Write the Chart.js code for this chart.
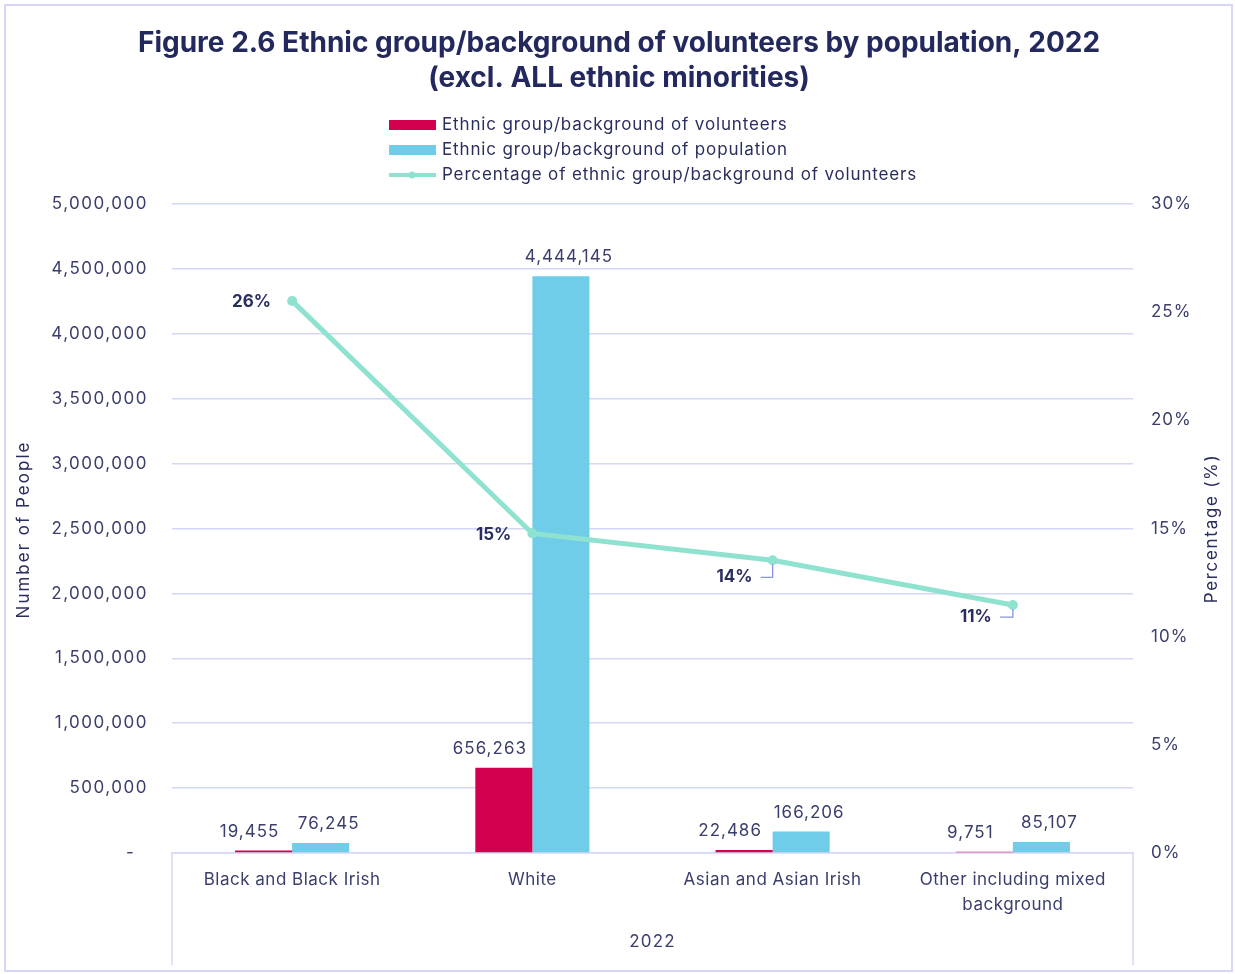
<!DOCTYPE html>
<html>
<head>
<meta charset="utf-8">
<script src="https://cdn.jsdelivr.net/npm/chart.js@4.4.1/dist/chart.umd.min.js"></script>
<style>
  html, body { margin: 0; padding: 0; background: #ffffff; }
  #wrap { width: 1235px; height: 974px; position: relative; }
</style>
</head>
<body>
<div id="wrap"><canvas id="chart" width="1235" height="974"></canvas></div>
<script>
// ---- data ----
const categories = [
  'Black and Black Irish',
  'White',
  'Asian and Asian Irish',
  ['Other including mixed', 'background']
];
const volunteers = [19455, 656263, 22486, 9751];
const population = [76245, 4444145, 166206, 85107];
const volunteerPct = [25.52, 14.77, 13.53, 11.46];
const groupLabel = '2022';
const seriesNames = [
  'Ethnic group/background of volunteers',
  'Ethnic group/background of population',
  'Percentage of ethnic group/background of volunteers'
];
const titleLines = [
  'Figure 2.6 Ethnic group/background of volunteers by population, 2022',
  '(excl. ALL ethnic minorities)'
];
const leftAxisTitle = 'Number of People';
const rightAxisTitle = 'Percentage (%)';

// ---- styling ----
const FONT = 'Inter, "Noto Sans", sans-serif';
const NAVY = '#2a2e5e';
const TICK = '#3a3e6c';
const GRID = '#d4d8f6';
const RED = '#d3004f';
const BLUE = '#6fcde9';
const MINT = '#8fe2cf';
const LEADER = '#8b92e4';

// horizontal nudges for bar value labels, per series
const barLabelShift = [-14, 8];
// placement of percentage labels relative to their point
const pctLabelPlacement = [
  { dx: -21, dy: 1, leader: false },
  { dx: -21, dy: 1, leader: false },
  { dx: -20, dy: 17, leader: true },
  { dx: -21, dy: 12, leader: true }
];

const fmtInt = v => Number(v).toLocaleString('en-US');

// draw a scale's text with extra tracking
function trackScale(scale, px, method) {
  const key = '_tracked_' + method;
  if (!scale || scale[key]) return;
  const orig = scale[method];
  scale[method] = function (area) {
    const ctx = this.ctx;
    ctx.save();
    ctx.letterSpacing = px + 'px';
    orig.call(this, area);
    ctx.restore();
  };
  scale[key] = true;
}

const decorations = {
  id: 'decorations',
  beforeDraw(chart) {
    trackScale(chart.scales.y, 1.5, 'drawLabels');
    trackScale(chart.scales.y1, 1, 'drawLabels');
    trackScale(chart.scales.x, 0.5, 'drawLabels');
    trackScale(chart.scales.x, 1.2, 'drawTitle');
    const ctx = chart.ctx;
    ctx.save();
    ctx.strokeStyle = GRID;
    ctx.lineWidth = 2;
    ctx.strokeRect(5, 5, chart.width - 8, chart.height - 8);
    ctx.restore();
  },
  afterDraw(chart) {
    const ctx = chart.ctx;
    const x = chart.scales.x;
    const area = chart.chartArea;
    ctx.save();
    // bracket of the category group below the axis
    ctx.strokeStyle = GRID;
    ctx.lineWidth = 1.5;
    ctx.beginPath();
    ctx.moveTo(x.left, x.top);
    ctx.lineTo(x.left, x.bottom - 9);
    ctx.moveTo(x.right, x.top);
    ctx.lineTo(x.right, x.bottom - 9);
    ctx.stroke();

    // title
    ctx.fillStyle = '#23295c';
    ctx.font = '700 28px ' + FONT;
    ctx.textAlign = 'center';
    ctx.textBaseline = 'middle';
    ctx.fillText(titleLines[0], 619, 44);
    ctx.fillText(titleLines[1], 619, 79);

    // axis titles, both reading bottom to top
    ctx.font = '17px ' + FONT;
    ctx.fillStyle = NAVY;
    ctx.letterSpacing = '2px';
    const midY = (area.top + area.bottom) / 2;
    ctx.save();
    ctx.translate(24, midY + 1);
    ctx.rotate(-Math.PI / 2);
    ctx.fillText(leftAxisTitle, 0, 0);
    ctx.restore();
    ctx.letterSpacing = '1.7px';
    ctx.save();
    ctx.translate(1212, midY);
    ctx.rotate(-Math.PI / 2);
    ctx.fillText(rightAxisTitle, 0, 0);
    ctx.restore();

    // legend
    const rows = [125, 150, 175];
    ctx.font = '17px ' + FONT;
    ctx.letterSpacing = '0.85px';
    ctx.textAlign = 'left';
    ctx.fillStyle = RED;
    ctx.fillRect(389, rows[0] - 5, 47, 10);
    ctx.fillStyle = BLUE;
    ctx.fillRect(389, rows[1] - 5, 47, 10);
    ctx.strokeStyle = MINT;
    ctx.lineWidth = 4;
    ctx.beginPath();
    ctx.moveTo(389, rows[2]);
    ctx.lineTo(436, rows[2]);
    ctx.stroke();
    ctx.fillStyle = MINT;
    ctx.beginPath();
    ctx.arc(412, rows[2], 3.5, 0, Math.PI * 2);
    ctx.fill();
    ctx.fillStyle = NAVY;
    seriesNames.forEach((t, i) => ctx.fillText(t, 442, rows[i]));
    ctx.restore();
  },
  afterDatasetsDraw(chart) {
    const ctx = chart.ctx;
    ctx.save();
    ctx.textBaseline = 'middle';
    // bar values
    ctx.font = '17px ' + FONT;
    ctx.letterSpacing = '1px';
    ctx.fillStyle = TICK;
    ctx.textAlign = 'center';
    [0, 1].forEach(di => {
      const meta = chart.getDatasetMeta(di);
      const values = chart.data.datasets[di].data;
      meta.data.forEach((bar, i) => {
        ctx.fillText(fmtInt(values[i]), bar.x + barLabelShift[di], bar.y - 19);
      });
    });
    // percentage labels
    const lineMeta = chart.getDatasetMeta(2);
    const pcts = chart.data.datasets[2].data;
    ctx.font = '700 17px ' + FONT;
    ctx.letterSpacing = '0px';
    ctx.fillStyle = NAVY;
    ctx.textAlign = 'right';
    lineMeta.data.forEach((pt, i) => {
      const p = pctLabelPlacement[i];
      const lx = pt.x + p.dx;
      const ly = pt.y + p.dy;
      ctx.fillText(Number(pcts[i]).toFixed(0) + '%', lx, ly);
      if (p.leader) {
        ctx.strokeStyle = LEADER;
        ctx.lineWidth = 1.3;
        ctx.beginPath();
        ctx.moveTo(lx + 8, ly);
        ctx.lineTo(pt.x, ly);
        ctx.lineTo(pt.x, pt.y + 4);
        ctx.stroke();
      }
    });
    ctx.restore();
  }
};

new Chart(document.getElementById('chart'), {
  type: 'bar',
  data: {
    labels: categories,
    datasets: [
      {
        label: seriesNames[0],
        data: volunteers,
        backgroundColor: RED,
        yAxisID: 'y',
        order: 1,
        categoryPercentage: 0.475,
        barPercentage: 1.0
      },
      {
        label: seriesNames[1],
        data: population,
        backgroundColor: BLUE,
        yAxisID: 'y',
        order: 2,
        categoryPercentage: 0.475,
        barPercentage: 1.0
      },
      {
        type: 'line',
        label: seriesNames[2],
        data: volunteerPct,
        yAxisID: 'y1',
        order: 0,
        borderColor: MINT,
        backgroundColor: MINT,
        borderWidth: 5,
        pointRadius: 5,
        pointBorderWidth: 0,
        pointBackgroundColor: MINT,
        tension: 0
      }
    ]
  },
  options: {
    responsive: false,
    animation: false,
    events: [],
    layout: { padding: { top: 204, left: 0, right: 0, bottom: 0 } },
    plugins: {
      legend: { display: false },
      title: { display: false },
      tooltip: { enabled: false }
    },
    scales: {
      x: {
        grid: { display: false, drawTicks: false },
        border: { display: true, color: GRID, width: 1.5 },
        ticks: {
          color: TICK,
          font: { family: FONT, size: 17, lineHeight: 1.45 },
          padding: 15,
          maxRotation: 0,
          autoSkip: false
        },
        title: {
          display: true,
          text: groupLabel,
          color: TICK,
          font: { family: FONT, size: 17 },
          padding: { top: 0, bottom: 22 }
        },
        afterFit(scale) { scale.height = 121; }
      },
      y: {
        position: 'left',
        min: 0,
        max: 5000000,
        grid: { color: GRID, lineWidth: 1.5, drawTicks: false },
        border: { display: false },
        ticks: {
          stepSize: 500000,
          color: TICK,
          font: { family: FONT, size: 17 },
          padding: 24,
          callback: v => (v === 0 ? '-  ' : fmtInt(v))
        },
        title: { display: false },
        afterFit(scale) { scale.width = 172; }
      },
      y1: {
        position: 'right',
        min: 0,
        max: 30,
        grid: { display: false, drawTicks: false },
        border: { display: false },
        ticks: {
          stepSize: 5,
          color: TICK,
          font: { family: FONT, size: 17 },
          padding: 18,
          callback: v => v + '%'
        },
        title: { display: false },
        afterFit(scale) { scale.width = 102; }
      }
    }
  },
  plugins: [decorations]
});
</script>
</body>
</html>
